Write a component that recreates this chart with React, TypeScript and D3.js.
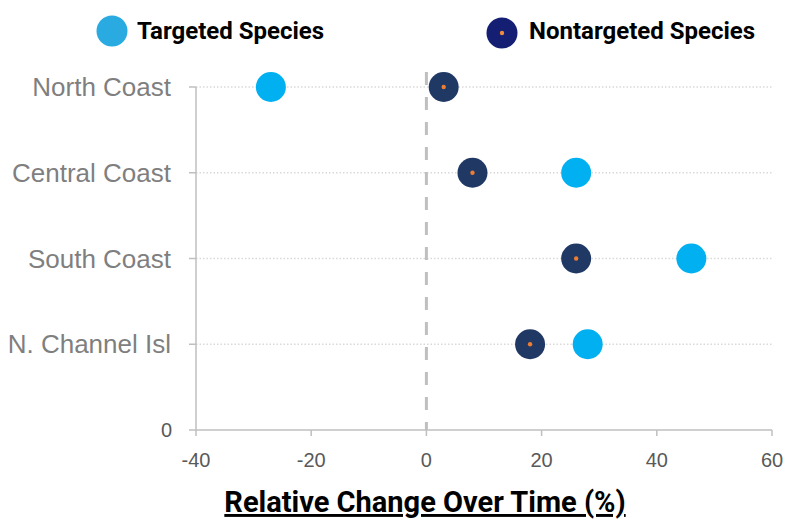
import React from 'react';
import * as d3 from 'd3';

// chart data
const categories = ['North Coast', 'Central Coast', 'South Coast', 'N. Channel Isl'];
const targeted = [-27, 26, 46, 28];
const nontargeted = [3, 8, 26, 18];
const xTicks = [-40, -20, 0, 20, 40, 60];
const legendLabels = ['Targeted Species', 'Nontargeted Species'];

const width = 789;
const height = 521;

const App = () => {
    const margin = { top: 87, right: 17, bottom: 91, left: 196 };

    const xScale = d3.scaleLinear()
        .domain([-40, 60])
        .range([margin.left, width - margin.right]);

    // categories sit at 4..1 from the top, 0 at the bottom of the axis
    const yScale = d3.scaleLinear()
        .domain([0, categories.length])
        .range([height - margin.bottom, margin.top]);

    const yPos = (i: number) => yScale(categories.length - i);

    const axisColor = '#BFBFBF';
    const labelFont = '"Liberation Sans", Arial, sans-serif';
    const boldFont = 'Roboto, "Noto Sans", sans-serif';

    const x0 = xScale.range()[0];
    const x1 = xScale.range()[1];
    const yBottom = yScale(0);

    return (
        <svg
            width={width}
            height={height}
            viewBox={`0 0 ${width} ${height}`}
            style={{ position: 'absolute', left: 0, top: 0, background: '#fff', display: 'block' }}
        >
            {/* legend */}
            <g fontFamily={boldFont} fontWeight={700} fontSize={24} fill="#000">
                <circle cx={112} cy={31} r={15.5} fill="#29ABE2" />
                <text x={137} y={39}>{legendLabels[0]}</text>
                <circle cx={502} cy={33} r={15.5} fill="#141E73" />
                <circle cx={502} cy={33} r={2.2} fill="#F08A3C" />
                <text x={529} y={39}>{legendLabels[1]}</text>
            </g>

            {/* dotted gridlines */}
            {categories.map((c, i) => (
                <line
                    key={`grid-${c}`}
                    x1={x0}
                    x2={x1}
                    y1={yPos(i)}
                    y2={yPos(i)}
                    stroke="#D9D9D9"
                    strokeWidth={1.3}
                    strokeDasharray="1.5 2"
                />
            ))}

            {/* y axis */}
            <line x1={x0} x2={x0} y1={yPos(0)} y2={yBottom} stroke={axisColor} strokeWidth={1.5} />
            {[...categories.map((_, i) => yPos(i)), yBottom].map((y, i) => (
                <line key={`ytick-${i}`} x1={x0 - 7} x2={x0} y1={y} y2={y} stroke={axisColor} strokeWidth={1.5} />
            ))}
            <g fontFamily={labelFont} fontSize={26} fill="#7F7F7F" textAnchor="end">
                {categories.map((c, i) => (
                    <text key={`ylab-${c}`} x={171} y={yPos(i)} dy="0.35em">{c}</text>
                ))}
            </g>
            <text x={172} y={yBottom} dy="0.35em" fontFamily={labelFont} fontSize={20} fill="#595959" textAnchor="end">0</text>

            {/* x axis */}
            <line x1={x0} x2={x1} y1={yBottom} y2={yBottom} stroke={axisColor} strokeWidth={1.5} />
            {xTicks.map(t => (
                <g key={`xtick-${t}`}>
                    <line x1={xScale(t)} x2={xScale(t)} y1={yBottom} y2={yBottom + 6} stroke={axisColor} strokeWidth={1.5} />
                    <text
                        x={xScale(t)}
                        y={yBottom + 37}
                        fontFamily={labelFont}
                        fontSize={20}
                        fill="#595959"
                        textAnchor="middle"
                    >
                        {t}
                    </text>
                </g>
            ))}

            {/* zero reference line */}
            <line
                x1={xScale(0)}
                x2={xScale(0)}
                y1={72}
                y2={yBottom}
                stroke="#BFBFBF"
                strokeWidth={3}
                strokeDasharray="13 12"
            />

            {/* targeted species */}
            {targeted.map((v, i) => (
                <circle key={`t-${i}`} cx={xScale(v)} cy={yPos(i)} r={15} fill="#00B0F0" />
            ))}

            {/* nontargeted species */}
            {nontargeted.map((v, i) => (
                <g key={`n-${i}`}>
                    <circle cx={xScale(v)} cy={yPos(i)} r={15} fill="#203864" />
                    <circle cx={xScale(v)} cy={yPos(i)} r={2.2} fill="#ED7D31" />
                </g>
            ))}

            {/* axis title */}
            <text
                x={425}
                y={512}
                fontFamily={boldFont}
                fontWeight={700}
                fontSize={29}
                fill="#000"
                textAnchor="middle"
                textDecoration="underline"
            >
                Relative Change Over Time (%)
            </text>
        </svg>
    );
};

export default App;
